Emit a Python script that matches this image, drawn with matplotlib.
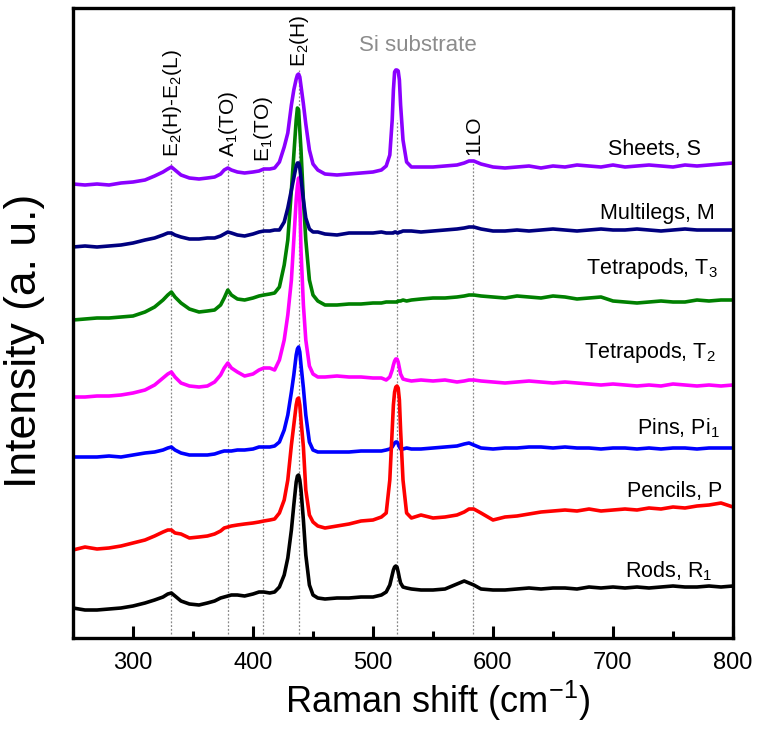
import matplotlib
matplotlib.use("Agg")
import matplotlib.pyplot as plt
import numpy as np
from matplotlib.ticker import MultipleLocator

plt.rcParams['font.family'] = ['Liberation Sans', 'DejaVu Sans']
plt.rcParams['mathtext.fontset'] = 'custom'
plt.rcParams['mathtext.rm'] = 'Liberation Sans'
plt.rcParams['mathtext.default'] = 'regular'

# Raman shift grid (cm^-1)
shift = [250, 260, 270, 280, 290, 300, 310, 318, 325, 329, 332, 335, 340, 347, 355, 362, 368, 373, 376, 379,
         382, 387, 393, 400, 405, 409, 414, 418, 422, 426, 429, 432, 434, 436, 437, 438, 439, 440, 442, 444,
         447, 450, 454, 460, 470, 480, 490, 500, 507, 511, 514, 516, 517, 518, 519, 520, 521, 522, 523, 525,
         528, 532, 540, 550, 560, 570, 576, 580, 584, 590, 600, 610, 620, 630, 640, 650, 660, 670, 680, 690,
         700, 710, 720, 730, 740, 750, 760, 770, 780, 790, 800]

# Intensities (a. u., vertically offset stacks)
sheets = [454, 453, 454, 453, 455, 456, 458, 462, 466, 469, 471, 468, 463, 460, 459, 460, 461, 464, 468, 470,
          468, 466, 465, 466, 467, 469, 469, 470, 476, 491, 505, 533, 548, 559, 563, 564, 561, 552, 534, 514,
          488, 474, 468, 464, 463, 464, 465, 466, 468, 472, 483, 518, 548, 566, 568, 568, 567, 558, 533, 498,
          476, 471, 471, 471, 472, 473, 475, 477, 477, 474, 471, 470, 471, 472, 470, 472, 471, 473, 472, 471,
          473, 471, 472, 473, 472, 471, 473, 472, 473, 474, 475]
multilegs = [391, 392, 391, 392, 393, 395, 398, 400, 403, 405, 405, 403, 401, 399, 399, 400, 400, 402, 404, 406,
             405, 403, 402, 404, 406, 407, 407, 408, 408, 416, 430, 448, 460, 472, 475, 475, 470, 460, 438, 420,
             409, 406, 406, 404, 403, 405, 405, 405, 406, 405, 405, 405, 405, 406, 406, 405, 405, 406, 406, 407,
             407, 407, 406, 407, 408, 409, 410, 411, 411, 409, 407, 407, 408, 407, 408, 409, 408, 407, 408, 409,
             408, 408, 409, 408, 407, 408, 409, 408, 408, 408, 408]
tetrapods3 = [318, 319, 320, 320, 321, 322, 326, 331, 338, 343, 346, 341, 335, 329, 326, 327, 328, 333, 340, 348,
              343, 339, 338, 340, 342, 343, 344, 345, 351, 373, 398, 448, 483, 518, 530, 528, 508, 488, 438, 398,
              358, 343, 337, 333, 333, 334, 334, 335, 335, 336, 336, 336, 336, 336, 336, 336, 337, 337, 337, 338,
              337, 338, 339, 340, 340, 341, 342, 343, 343, 342, 341, 340, 342, 341, 340, 342, 341, 339, 340, 341,
              337, 336, 335, 336, 337, 336, 336, 338, 337, 338, 338]
tetrapods2 = [241, 241, 242, 242, 243, 245, 248, 253, 260, 264, 266, 261, 255, 252, 251, 252, 256, 263, 270, 275,
              270, 266, 262, 264, 268, 270, 270, 268, 278, 298, 323, 358, 398, 438, 452, 460, 438, 388, 333, 298,
              272, 264, 261, 261, 262, 261, 261, 260, 260, 258, 261, 268, 273, 277, 279, 279, 276, 270, 264, 259,
              258, 257, 258, 257, 258, 256, 257, 258, 258, 257, 256, 255, 256, 257, 256, 255, 256, 255, 254, 253,
              254, 253, 252, 253, 252, 254, 253, 252, 253, 252, 253]
pins = [181, 181, 181, 182, 181, 183, 185, 186, 188, 190, 191, 188, 185, 183, 183, 183, 184, 186, 187, 187,
        187, 188, 188, 189, 191, 191, 191, 192, 196, 208, 223, 246, 263, 283, 289, 291, 286, 273, 250, 223,
        196, 188, 186, 186, 186, 186, 187, 187, 187, 188, 189, 191, 193, 195, 196, 196, 194, 191, 189, 189,
        190, 189, 189, 190, 191, 192, 194, 195, 193, 190, 189, 190, 190, 191, 191, 190, 191, 190, 190, 189,
        190, 190, 189, 190, 189, 190, 190, 189, 190, 190, 190]
pencils = [88, 91, 89, 90, 92, 95, 98, 102, 106, 108, 108, 105, 104, 100, 101, 102, 104, 107, 110, 111,
           112, 113, 114, 115, 116, 117, 118, 119, 125, 138, 158, 193, 213, 233, 239, 240, 233, 218, 191, 148,
           123, 116, 112, 110, 112, 114, 117, 118, 121, 125, 158, 208, 233, 246, 251, 252, 250, 238, 208, 158,
           125, 120, 123, 120, 121, 123, 126, 129, 129, 125, 118, 121, 122, 124, 126, 127, 128, 127, 129, 127,
           128, 129, 128, 130, 129, 131, 130, 132, 133, 135, 131]
rods = [30, 28, 28, 29, 30, 32, 35, 38, 41, 44, 45, 42, 37, 34, 33, 35, 37, 40, 41, 42,
        43, 43, 42, 44, 46, 46, 45, 46, 51, 63, 80, 108, 133, 156, 162, 163, 158, 148, 118, 83,
        53, 43, 40, 39, 40, 40, 41, 41, 43, 46, 53, 63, 68, 71, 72, 71, 66, 60, 55, 51,
        50, 49, 48, 48, 49, 54, 57, 55, 53, 49, 48, 48, 49, 50, 49, 50, 50, 49, 51, 50,
        51, 50, 51, 50, 51, 52, 51, 51, 52, 51, 52]

series = [
    ("Tetrapods, T$_3$", tetrapods3, "#008000"),
    ("Tetrapods, T$_2$", tetrapods2, "#FF00FF"),
    ("Multilegs, M", multilegs, "#000080"),
    ("Sheets, S", sheets, "#8B00FF"),
    ("Pins, Pi$_1$", pins, "#0000FF"),
    ("Pencils, P", pencils, "#FF0000"),
    ("Rods, R$_1$", rods, "#000000"),
]

# labels: text, x (right edge, cm^-1), y (a.u.)
label_text = ["Sheets, S", "Multilegs, M", "Tetrapods, T$_3$", "Tetrapods, T$_2$", "Pins, Pi$_1$", "Pencils, P", "Rods, R$_1$"]
label_x = [773, 785, 787, 786, 789, 791, 783]
label_y = [489, 425, 370, 286, 210, 147, 67]

# mode lines
mode_pos = [332, 379, 408, 438, 520, 583]
mode_top = [478, 478, 473, 568, 518, 480]
mode_text = ["E$_2$(H)-E$_2$(L)", "A$_1$(TO)", "E$_1$(TO)", "E$_2$(H)", None, "1LO"]

fig = plt.figure(figsize=(7.57, 7.29), dpi=100)
ax = fig.add_axes([73/757, (729-638)/729, (733-73)/757, (638-8)/729])

for pos, top in zip(mode_pos, mode_top):
    ax.plot([pos, pos], [4, top], ls=(0, (1.5, 1.5)), color="#888888", lw=0.9, zorder=1)

for name, vals, col in series:
    ax.plot(shift, vals, color=col, lw=2.6, zorder=2, solid_joinstyle='round')

for t, x, y in zip(label_text, label_x, label_y):
    ax.text(x, y, t, ha='right', va='center', fontsize=15.5, color='black')

for pos, top, t in zip(mode_pos, mode_top, mode_text):
    if t:
        ax.text(pos + 1, top + 3, t, rotation=90, ha='center', va='bottom', fontsize=15)

ax.text(537, 593, "Si substrate", ha='center', va='center', fontsize=16, color='#8c8c8c')

ax.set_xlim(250, 800)
ax.set_ylim(0, 630)
ax.set_yticks([])
ax.xaxis.set_major_locator(MultipleLocator(100))
ax.xaxis.set_minor_locator(MultipleLocator(50))
ax.tick_params(axis='x', which='major', direction='in', length=9, width=2.2, labelsize=17, pad=10)
ax.tick_params(axis='x', which='minor', direction='in', length=5, width=2.2)
for s in ax.spines.values():
    s.set_linewidth(2.4)

ax.set_xlabel("Raman shift (cm$^{-1}$)", fontsize=26)
ax.xaxis.set_label_coords((438 - 73) / 660, -0.064)
ax.set_ylabel("Intensity (a. u.)", fontsize=32)
ax.yaxis.set_label_coords(-0.042, (638 - 341) / 630)

fig.savefig("out.png", dpi=100)
